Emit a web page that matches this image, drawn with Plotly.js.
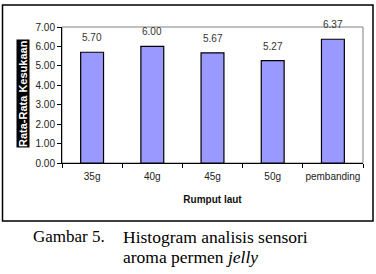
<!DOCTYPE html>
<html>
<head>
<meta charset="utf-8">
<script src="https://cdn.plot.ly/plotly-3.0.1.min.js"></script>
<style>
  html, body { margin: 0; padding: 0; background: #fff; }
  #chart { width: 376px; height: 274px; }
</style>
</head>
<body>
<div id="chart"></div>
<script>
// Mean preference scores for jelly candy aroma by seaweed amount
const categories = ["35g", "40g", "45g", "50g", "pembanding"];
const scores = [5.70, 6.00, 5.67, 5.27, 6.37];
const yTickValues = [0, 1, 2, 3, 4, 5, 6, 7];

const W = 376, H = 274;
const margin = { l: 62, r: 13, t: 27, b: 111 };
const plotW = W - margin.l - margin.r;
const plotH = H - margin.t - margin.b;
// convert page pixels into paper coordinates
const px = x => (x - margin.l) / plotW;
const py = y => (H - margin.b - y) / plotH;

const trace = {
  type: "bar",
  x: categories,
  y: scores,
  marker: { color: "#9999FF", line: { color: "#000", width: 1.2 } },
  hoverinfo: "none"
};

const valueLabels = categories.map((c, i) => ({
  x: c, y: scores[i], xref: "x", yref: "y",
  text: scores[i].toFixed(2), showarrow: false,
  yanchor: "bottom", yshift: 7,
  font: { family: "Liberation Sans, Arial, sans-serif", size: 10, color: "#333" }
}));

const layout = {
  width: W, height: H,
  margin: margin,
  paper_bgcolor: "#fff", plot_bgcolor: "#fff",
  showlegend: false,
  bargap: 0.62,
  font: { family: "Liberation Sans, Arial, sans-serif", size: 10, color: "#222" },
  xaxis: {
    type: "category",
    tickangle: 0,
    showline: true, linecolor: "#000", linewidth: 1,
    ticks: "outside", tickson: "boundaries", ticklen: 4, tickcolor: "#000",
    ticklabelstandoff: 4,
    tickfont: { size: 10, color: "#222" },
    showgrid: false, zeroline: false,
    title: { text: "<b>Rumput laut</b>", font: { size: 10, color: "#111" }, standoff: 14 }
  },
  yaxis: {
    range: [0, 7],
    tickvals: yTickValues,
    tickformat: ".2f",
    showline: true, linecolor: "#000", linewidth: 1,
    ticks: "outside", ticklen: 4, tickcolor: "#000",
    tickfont: { size: 10, color: "#222" },
    showgrid: false, zeroline: false
  },
  shapes: [
    // plot area border
    { type: "rect", xref: "paper", yref: "paper", x0: 0, x1: 1, y0: 0, y1: 1,
      line: { color: "#808080", width: 1 }, layer: "below" },
    // outer chart frame
    { type: "rect", xref: "paper", yref: "paper",
      x0: px(2.5), x1: px(373), y0: py(221), y1: py(5),
      line: { color: "#000", width: 1.5 } }
  ],
  annotations: valueLabels.concat([
    { xref: "paper", yref: "paper", x: px(22.5), y: py(93.5),
      xanchor: "center", yanchor: "middle",
      text: "<b>Rata-Rata Kesukaan</b>", textangle: -90, showarrow: false,
      bgcolor: "#000", borderpad: 0,
      font: { family: "Liberation Sans, Arial, sans-serif", size: 11, color: "#fff" } },
    { xref: "paper", yref: "paper", x: px(31), y: py(237),
      xanchor: "left", yanchor: "middle", showarrow: false,
      text: "Gambar 5.",
      font: { family: "Liberation Serif, Times New Roman, serif", size: 17, color: "#000" } },
    { xref: "paper", yref: "paper", x: px(121), y: py(237),
      xanchor: "left", yanchor: "middle", showarrow: false,
      text: "Histogram analisis sensori",
      font: { family: "Liberation Serif, Times New Roman, serif", size: 17.5, color: "#000" } },
    { xref: "paper", yref: "paper", x: px(121), y: py(257),
      xanchor: "left", yanchor: "middle", showarrow: false,
      text: "aroma permen <i>jelly</i>",
      font: { family: "Liberation Serif, Times New Roman, serif", size: 17.5, color: "#000" } }
  ])
};

Plotly.newPlot("chart", [trace], layout, { staticPlot: true, displayModeBar: false });
</script>
</body>
</html>
